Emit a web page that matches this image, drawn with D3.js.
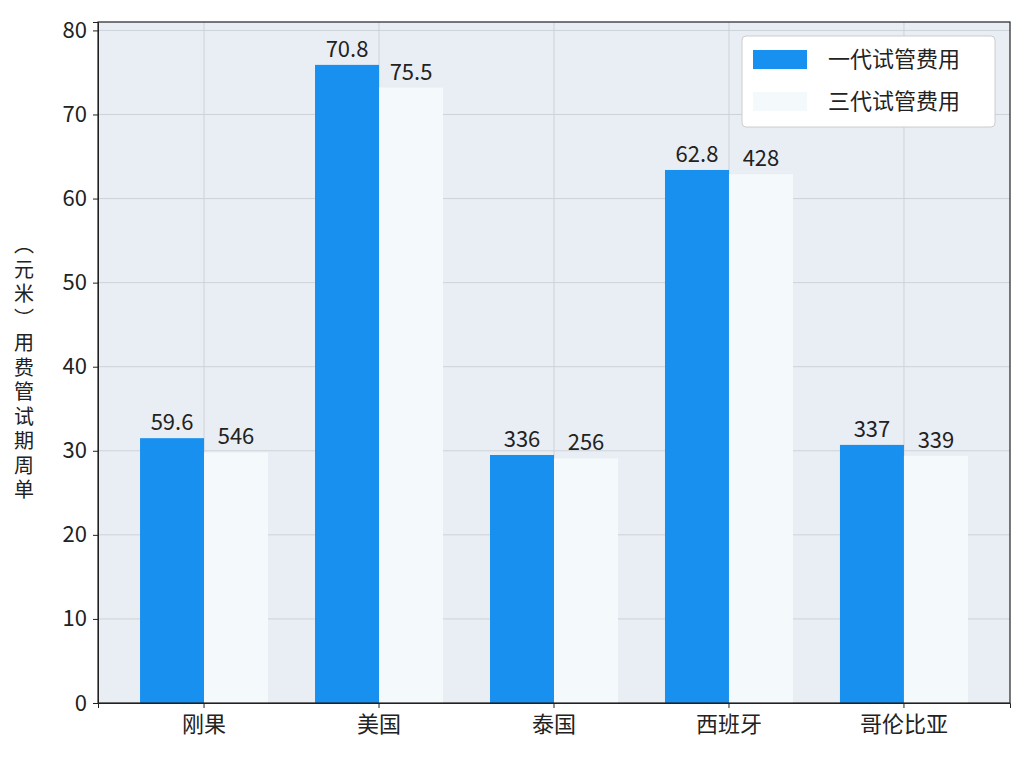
<!DOCTYPE html>
<html><head><meta charset="utf-8">
<script src="https://cdn.jsdelivr.net/npm/d3@7"></script>
<style>body{margin:0;background:#fff}</style>
</head><body>
<svg width="1024" height="768"></svg>
<script>
const categories = ["刚果", "美国", "泰国", "西班牙", "哥伦比亚"];
const seriesNames = ["一代试管费用", "三代试管费用"];
const gen1 = [31.5, 75.9, 29.5, 63.4, 30.7];
const gen3 = [29.8, 73.2, 29.1, 62.9, 29.4];
const gen1Labels = ["59.6", "70.8", "336", "62.8", "337"];
const gen3Labels = ["546", "75.5", "256", "428", "339"];
const yTicks = [0, 10, 20, 30, 40, 50, 60, 70, 80];
const yLabelChars = ["︵", "元", "米", "︶", "用", "费", "管", "试", "期", "周", "单"];

const font = "'Noto Sans CJK SC', 'Noto Sans', sans-serif";
const colors = ["#1890f0", "#f4f9fc"];
const margin = {top: 22, right: 14, bottom: 65, left: 98};
const W = 1024, H = 768;
const svg = d3.select("svg");

const x0 = d3.scaleBand().domain(categories).range([margin.left, W - margin.right]).paddingOuter(0.106);
const groupW = 128;
const x1 = d3.scaleBand().domain(seriesNames).range([0, groupW]);
const y = d3.scaleLinear().domain([0, 81]).range([H - margin.bottom, margin.top]);

svg.append("rect").attr("x", margin.left).attr("y", margin.top)
  .attr("width", W - margin.left - margin.right).attr("height", H - margin.top - margin.bottom)
  .attr("fill", "#e9eef4");

// grid
svg.append("g").selectAll("line").data(yTicks).join("line")
  .attr("x1", margin.left).attr("x2", W - margin.right)
  .attr("y1", d => y(d)).attr("y2", d => y(d))
  .attr("stroke", "#cdd2d8").attr("stroke-width", 1);
svg.append("g").selectAll("line").data(categories).join("line")
  .attr("x1", d => x0(d) + x0.bandwidth() / 2).attr("x2", d => x0(d) + x0.bandwidth() / 2)
  .attr("y1", margin.top).attr("y2", H - margin.bottom)
  .attr("stroke", "#cdd2d8").attr("stroke-width", 1);

const series = [gen1, gen3];
const labels = [gen1Labels, gen3Labels];
series.forEach((vals, si) => {
  const g = svg.append("g");
  g.selectAll("rect").data(categories).join("rect")
    .attr("x", (d) => x0(d) + x0.bandwidth() / 2 - groupW / 2 + x1(seriesNames[si]))
    .attr("y", (d, i) => y(vals[i]))
    .attr("width", x1.bandwidth())
    .attr("height", (d, i) => y(0) - y(vals[i]))
    .attr("fill", colors[si]);
  g.selectAll("text").data(categories).join("text")
    .attr("x", (d) => x0(d) + x0.bandwidth() / 2 - groupW / 2 + x1(seriesNames[si]) + x1.bandwidth() / 2)
    .attr("y", (d, i) => y(vals[i]) - 8)
    .attr("text-anchor", "middle").attr("font-family", font).attr("font-size", 22).attr("fill", "#222")
    .text((d, i) => labels[si][i]);
});

// axes
const yAxis = svg.append("g").attr("transform", `translate(${margin.left},0)`)
  .call(d3.axisLeft(y).tickValues(yTicks).tickSize(5).tickPadding(6));
const xAxis = svg.append("g").attr("transform", `translate(0,${H - margin.bottom})`)
  .call(d3.axisBottom(x0).tickSize(5).tickPadding(8));
[yAxis, xAxis].forEach(a => {
  a.selectAll("text").attr("font-family", font).attr("font-size", 22).attr("fill", "#222");
  a.selectAll("line,path").attr("stroke", "#222");
});
svg.append("rect").attr("x", margin.left).attr("y", margin.top)
  .attr("width", W - margin.left - margin.right).attr("height", H - margin.top - margin.bottom)
  .attr("fill", "none").attr("stroke", "#222").attr("stroke-width", 1.2);

// y label (stacked upright)
svg.append("g").selectAll("text").data(yLabelChars).join("text")
  .attr("x", 24).attr("y", (d, i) => 252 + i * 24.5)
  .attr("text-anchor", "middle").attr("font-family", font).attr("font-size", 20).attr("fill", "#222")
  .text(d => d);

// legend
const lg = svg.append("g");
lg.append("rect").attr("x", 742).attr("y", 36).attr("width", 253).attr("height", 91)
  .attr("rx", 4).attr("fill", "#fff").attr("stroke", "#ccc");
seriesNames.forEach((n, i) => {
  lg.append("rect").attr("x", 753).attr("y", 50 + i * 42).attr("width", 54).attr("height", 19)
    .attr("fill", colors[i]);
  lg.append("text").attr("x", 828).attr("y", 67 + i * 42).attr("font-family", font)
    .attr("font-size", 22).attr("fill", "#222").text(n);
});
</script>
</body></html>
